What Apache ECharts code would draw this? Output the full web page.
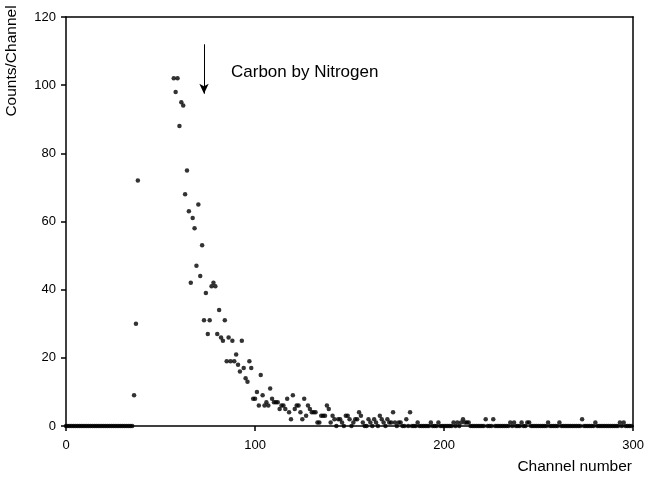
<!DOCTYPE html>
<html>
<head>
<meta charset="utf-8">
<script src="https://cdn.jsdelivr.net/npm/echarts@6/dist/echarts.min.js"></script>
<style>
html,body{margin:0;padding:0;background:#fff;}
#c{width:647px;height:477px;}
</style>
</head>
<body>
<div id="c"></div>
<script>
// Counts per channel, index = channel number (null = no point shown)
var counts = [
  0,0,0,0,0,0,0,0,0,0,
  0,0,0,0,0,0,0,0,0,0,
  0,0,0,0,0,0,0,0,0,0,
  0,0,0,0,0,0,9,30,72,null,
  null,null,null,null,null,null,null,null,null,null,
  null,null,null,null,null,null,null,102,98,102,
  88,95,94,68,75,63,42,61,58,47,
  65,44,53,31,39,27,31,41,42,41,
  27,34,26,25,31,19,26,19,25,19,
  21,18,16,25,17,14,13,19,17,8,
  8,10,6,15,9,6,7,6,11,8,
  7,7,7,5,6,6,5,8,4,2,
  9,5,6,6,4,2,8,3,6,5,
  4,4,4,1,1,3,3,3,6,5,
  1,3,2,0,2,2,1,0,3,3,
  2,0,1,2,2,4,3,1,0,0,
  2,1,0,2,1,0,3,2,1,0,
  2,1,1,4,1,0,1,1,0,0,
  2,0,4,0,0,0,1,0,0,0,
  0,0,0,1,0,0,0,1,0,0,
  0,0,0,0,0,1,0,1,0,1,
  2,1,1,1,0,0,0,0,0,0,
  0,0,2,0,0,0,2,0,0,0,
  0,0,0,0,0,1,0,1,0,0,
  0,1,0,0,1,1,0,0,0,0,
  0,0,0,0,0,1,0,0,0,0,
  0,1,0,0,0,0,0,0,0,0,
  0,0,0,2,0,0,0,0,0,0,
  1,0,0,0,0,0,0,0,0,0,
  0,0,0,1,0,1,0,0,0,0
];
var xTicks = [0, 100, 200, 300];
var yTicks = [0, 20, 40, 60, 80, 100, 120];
var annotationText = "Carbon by Nitrogen";
var arrowChannel = 73;
var arrowFrom = 112;
var arrowTo = 97.5;
var xTitle = "Channel number";
var yTitle = "Counts/Channel";

var points = [];
counts.forEach(function (v, i) { if (v !== null) points.push([i, v]); });

var FONT = "Liberation Sans, Arial, sans-serif";
var chart = echarts.init(document.getElementById('c'), null, {renderer: 'canvas'});
var axisLine = {show: true, onZero: false, lineStyle: {color: '#000', width: 1.5}};
chart.setOption({
  animation: false,
  backgroundColor: '#fff',
  grid: {left: 66, right: 13, top: 17, bottom: 51},
  xAxis: [{
    type: 'value', min: xTicks[0], max: xTicks[xTicks.length - 1], interval: 100,
    axisLine: axisLine,
    axisTick: {show: true, inside: false, length: 5, lineStyle: {color: '#000', width: 1.5}},
    axisLabel: {color: '#000', fontFamily: FONT, fontSize: 13, margin: 13},
    splitLine: {show: false}
  }, {
    type: 'value', position: 'top', min: 0, max: 300,
    axisLine: axisLine, axisTick: {show: false}, axisLabel: {show: false}, splitLine: {show: false}
  }],
  yAxis: [{
    type: 'value', min: yTicks[0], max: yTicks[yTicks.length - 1], interval: 20,
    axisLine: axisLine,
    axisTick: {show: true, inside: false, length: 5, lineStyle: {color: '#000', width: 1.5}},
    axisLabel: {color: '#000', fontFamily: FONT, fontSize: 13, margin: 10},
    splitLine: {show: false}
  }, {
    type: 'value', position: 'right', min: 0, max: 120,
    axisLine: axisLine, axisTick: {show: false}, axisLabel: {show: false}, splitLine: {show: false}
  }],
  series: [{
    type: 'scatter',
    data: points,
    symbol: 'circle',
    symbolSize: 4.5,
    itemStyle: {color: '#000'},
    clip: false,
    z: 5,
    markLine: {
      silent: true,
      symbol: ['none', 'arrow'],
      symbolSize: [7, 10],
      label: {show: false},
      lineStyle: {color: '#000', width: 1, type: 'solid'},
      data: [[{coord: [arrowChannel, arrowFrom]}, {coord: [arrowChannel, arrowTo]}]]
    }
  }],
  graphic: [
    {type: 'text', x: 231, y: 72,
     style: {text: annotationText, fill: '#000', font: '17px ' + FONT, textVerticalAlign: 'middle'}},
    {type: 'text', x: 632, y: 467,
     style: {text: xTitle, fill: '#000', font: '15.5px ' + FONT, textAlign: 'right', textVerticalAlign: 'middle'}},
    {type: 'text', x: 12, y: 61, rotation: Math.PI / 2,
     style: {text: yTitle, fill: '#000', font: '15.5px ' + FONT, textAlign: 'center', textVerticalAlign: 'middle'}}
  ]
});
</script>
</body>
</html>
